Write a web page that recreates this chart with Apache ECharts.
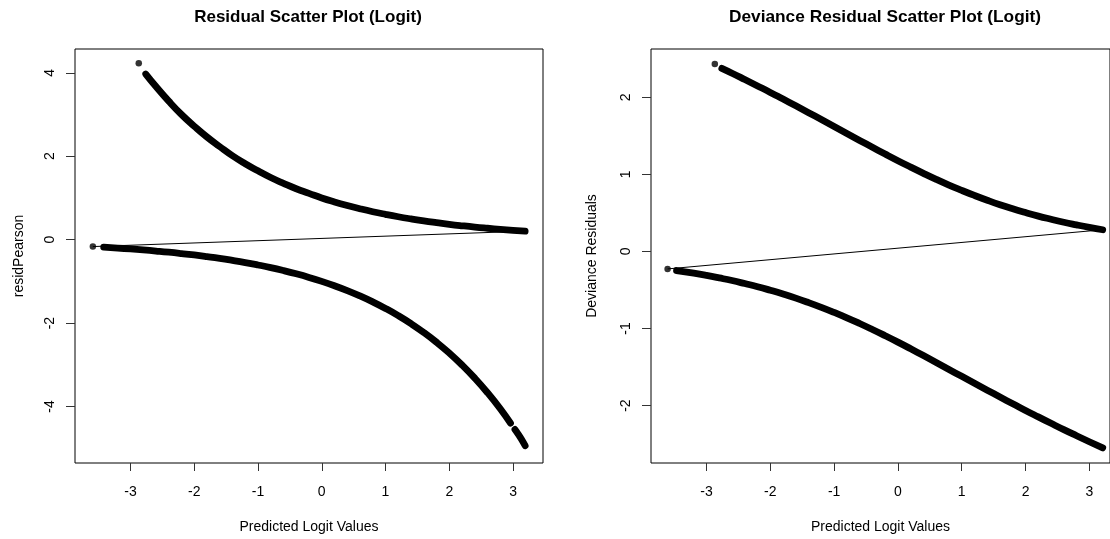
<!DOCTYPE html>
<html>
<head>
<meta charset="utf-8">
<script src="https://cdn.jsdelivr.net/npm/echarts@6/dist/echarts.min.js"></script>
<style>
  html, body { margin: 0; padding: 0; background: #fff; overflow: hidden; }
  #chart { width: 1110px; height: 539px; }
</style>
</head>
<body>
<div id="chart"></div>
<script>
// tick labels
const xTicks = [-3, -2, -1, 0, 1, 2, 3]
const pearsonTicks = [-4, -2, 0, 2, 4]
const devianceTicks = [-2, -1, 0, 1, 2]

// Pearson residuals, y = 1 branch
const pearsonUpperX = [-2.76, -2.6, -2.4, -2.2, -2.0, -1.8, -1.6, -1.4, -1.2, -1.0, -0.8, -0.6, -0.4, -0.2, 0, 0.2, 0.4, 0.6, 0.8, 1.0, 1.2, 1.4, 1.6, 1.8, 2.0, 2.2, 2.4, 2.6, 2.8, 3.0, 3.19]
const pearsonUpperY = [3.97, 3.67, 3.32, 3.00, 2.72, 2.46, 2.23, 2.01, 1.82, 1.65, 1.49, 1.35, 1.22, 1.11, 1.00, 0.905, 0.819, 0.741, 0.670, 0.607, 0.549, 0.497, 0.449, 0.407, 0.368, 0.333, 0.301, 0.273, 0.247, 0.223, 0.203]
// Pearson residuals, y = 0 branch
const pearsonLowerX = [-3.42, -3.2, -3.0, -2.8, -2.6, -2.4, -2.2, -2.0, -1.8, -1.6, -1.4, -1.2, -1.0, -0.8, -0.6, -0.4, -0.2, 0, 0.2, 0.4, 0.6, 0.8, 1.0, 1.2, 1.4, 1.6, 1.8, 2.0, 2.2, 2.4, 2.6, 2.8, 2.96]
const pearsonLowerY = [-0.181, -0.202, -0.223, -0.247, -0.273, -0.301, -0.333, -0.368, -0.407, -0.449, -0.497, -0.549, -0.607, -0.670, -0.741, -0.819, -0.905, -1.0, -1.105, -1.221, -1.350, -1.492, -1.649, -1.822, -2.014, -2.226, -2.460, -2.718, -3.004, -3.320, -3.669, -4.055, -4.40]
const pearsonTailX = [3.03, 3.08, 3.13, 3.19]
const pearsonTailY = [-4.55, -4.66, -4.78, -4.94]
// isolated points
const pearsonSingleX = [-2.87, -3.59]
const pearsonSingleY = [4.23, -0.166]
// straight line across the panel
const pearsonLineX = [-3.59, 3.19]
const pearsonLineY = [-0.166, 0.203]

// Deviance residuals, y = 1 branch
const devUpperX = [-2.76, -2.6, -2.4, -2.2, -2.0, -1.8, -1.6, -1.4, -1.2, -1.0, -0.8, -0.6, -0.4, -0.2, 0, 0.2, 0.4, 0.6, 0.8, 1.0, 1.2, 1.4, 1.6, 1.8, 2.0, 2.2, 2.4, 2.6, 2.8, 3.0, 3.21]
const devUpperY = [2.375, 2.312, 2.230, 2.147, 2.063, 1.976, 1.889, 1.800, 1.711, 1.621, 1.531, 1.440, 1.351, 1.263, 1.177, 1.094, 1.013, 0.935, 0.861, 0.792, 0.726, 0.664, 0.606, 0.553, 0.504, 0.458, 0.417, 0.378, 0.344, 0.312, 0.281]
// Deviance residuals, y = 0 branch
const devLowerX = [-3.47, -3.2, -3.0, -2.8, -2.6, -2.4, -2.2, -2.0, -1.8, -1.6, -1.4, -1.2, -1.0, -0.8, -0.6, -0.4, -0.2, 0, 0.2, 0.4, 0.6, 0.8, 1.0, 1.2, 1.4, 1.6, 1.8, 2.0, 2.2, 2.4, 2.6, 2.8, 3.0, 3.21]
const devLowerY = [-0.248, -0.283, -0.312, -0.344, -0.378, -0.417, -0.458, -0.504, -0.553, -0.606, -0.664, -0.726, -0.792, -0.861, -0.935, -1.013, -1.094, -1.177, -1.263, -1.351, -1.440, -1.531, -1.621, -1.711, -1.800, -1.889, -1.976, -2.063, -2.147, -2.230, -2.312, -2.391, -2.469, -2.549]
const devSingleX = [-2.87, -3.61]
const devSingleY = [2.43, -0.227]
const devLineX = [-3.61, 3.21]
const devLineY = [-0.227, 0.281]

const pairs = (xs, ys) => xs.map((x, i) => [x, ys[i]])

const font = 'Liberation Sans, Arial, sans-serif'

const chart = echarts.init(document.getElementById('chart'), null, { renderer: 'canvas' })

function xAxisFor(idx, max) {
  return {
    type: 'value', gridIndex: idx, min: -3.87, max: max,
    name: 'Predicted Logit Values', nameLocation: 'middle', nameGap: 57,
    nameTextStyle: { color: '#000', fontSize: 14, fontFamily: font },
    axisLine: { show: false, onZero: false },
    splitLine: { show: false },
    axisTick: { show: true, inside: false, length: 8, customValues: xTicks, lineStyle: { color: '#333' } },
    axisLabel: { customValues: xTicks, margin: 22, color: '#000', fontSize: 14, fontFamily: font }
  }
}

function yAxisFor(idx, min, max, ticks, name, gap) {
  return {
    type: 'value', gridIndex: idx, min: min, max: max,
    name: name, nameLocation: 'middle', nameGap: gap,
    nameTextStyle: { color: '#000', fontSize: 14, fontFamily: font },
    axisLine: { show: false, onZero: false },
    splitLine: { show: false },
    axisTick: { show: true, inside: false, length: 9, customValues: ticks, lineStyle: { color: '#333' } },
    axisLabel: { customValues: ticks, rotate: 90, margin: 18, color: '#000', fontSize: 14, fontFamily: font }
  }
}

function curve(data, idx) {
  return {
    type: 'line', xAxisIndex: idx, yAxisIndex: idx, data: data,
    showSymbol: false, smooth: true, silent: true,
    lineStyle: { color: '#000', width: 6.8, cap: 'round', join: 'round' }
  }
}

const option = {
  backgroundColor: '#fff',
  animation: false,
  title: [
    { text: 'Residual Scatter Plot (Logit)', left: 303, top: 4, textAlign: 'center',
      textStyle: { fontSize: 17, fontWeight: 'bold', color: '#000', fontFamily: font } },
    { text: 'Deviance Residual Scatter Plot (Logit)', left: 880, top: 4, textAlign: 'center',
      textStyle: { fontSize: 17.3, fontWeight: 'bold', color: '#000', fontFamily: font } }
  ],
  grid: [
    { left: 75, top: 49, width: 468, height: 418, show: true, borderColor: '#000', borderWidth: 1, backgroundColor: 'transparent' },
    // right panel is cut by the window edge; its right border falls just outside
    { left: 651, top: 49, width: 459, height: 418, show: true, borderColor: '#000', borderWidth: 1, backgroundColor: 'transparent' }
  ],
  xAxis: [xAxisFor(0, 3.47), xAxisFor(1, 3.324)],
  yAxis: [
    yAxisFor(0, -5.354, 4.57, pearsonTicks, 'residPearson', 49),
    yAxisFor(1, -2.745, 2.626, devianceTicks, 'Deviance Residuals', 52)
  ],
  series: [
    curve(pairs(pearsonUpperX, pearsonUpperY), 0),
    curve(pairs(pearsonLowerX, pearsonLowerY), 0),
    curve(pairs(pearsonTailX, pearsonTailY), 0),
    { type: 'scatter', xAxisIndex: 0, yAxisIndex: 0, data: pairs(pearsonSingleX, pearsonSingleY),
      symbolSize: 6.5, itemStyle: { color: '#000' } },
    { type: 'line', xAxisIndex: 0, yAxisIndex: 0, data: pairs(pearsonLineX, pearsonLineY),
      showSymbol: false, lineStyle: { color: '#000', width: 1 } },

    curve(pairs(devUpperX, devUpperY), 1),
    curve(pairs(devLowerX, devLowerY), 1),
    { type: 'scatter', xAxisIndex: 1, yAxisIndex: 1, data: pairs(devSingleX, devSingleY),
      symbolSize: 6.5, itemStyle: { color: '#000' } },
    { type: 'line', xAxisIndex: 1, yAxisIndex: 1, data: pairs(devLineX, devLineY),
      showSymbol: false, lineStyle: { color: '#000', width: 1 } }
  ]
}

chart.setOption(option)
</script>
</body>
</html>
